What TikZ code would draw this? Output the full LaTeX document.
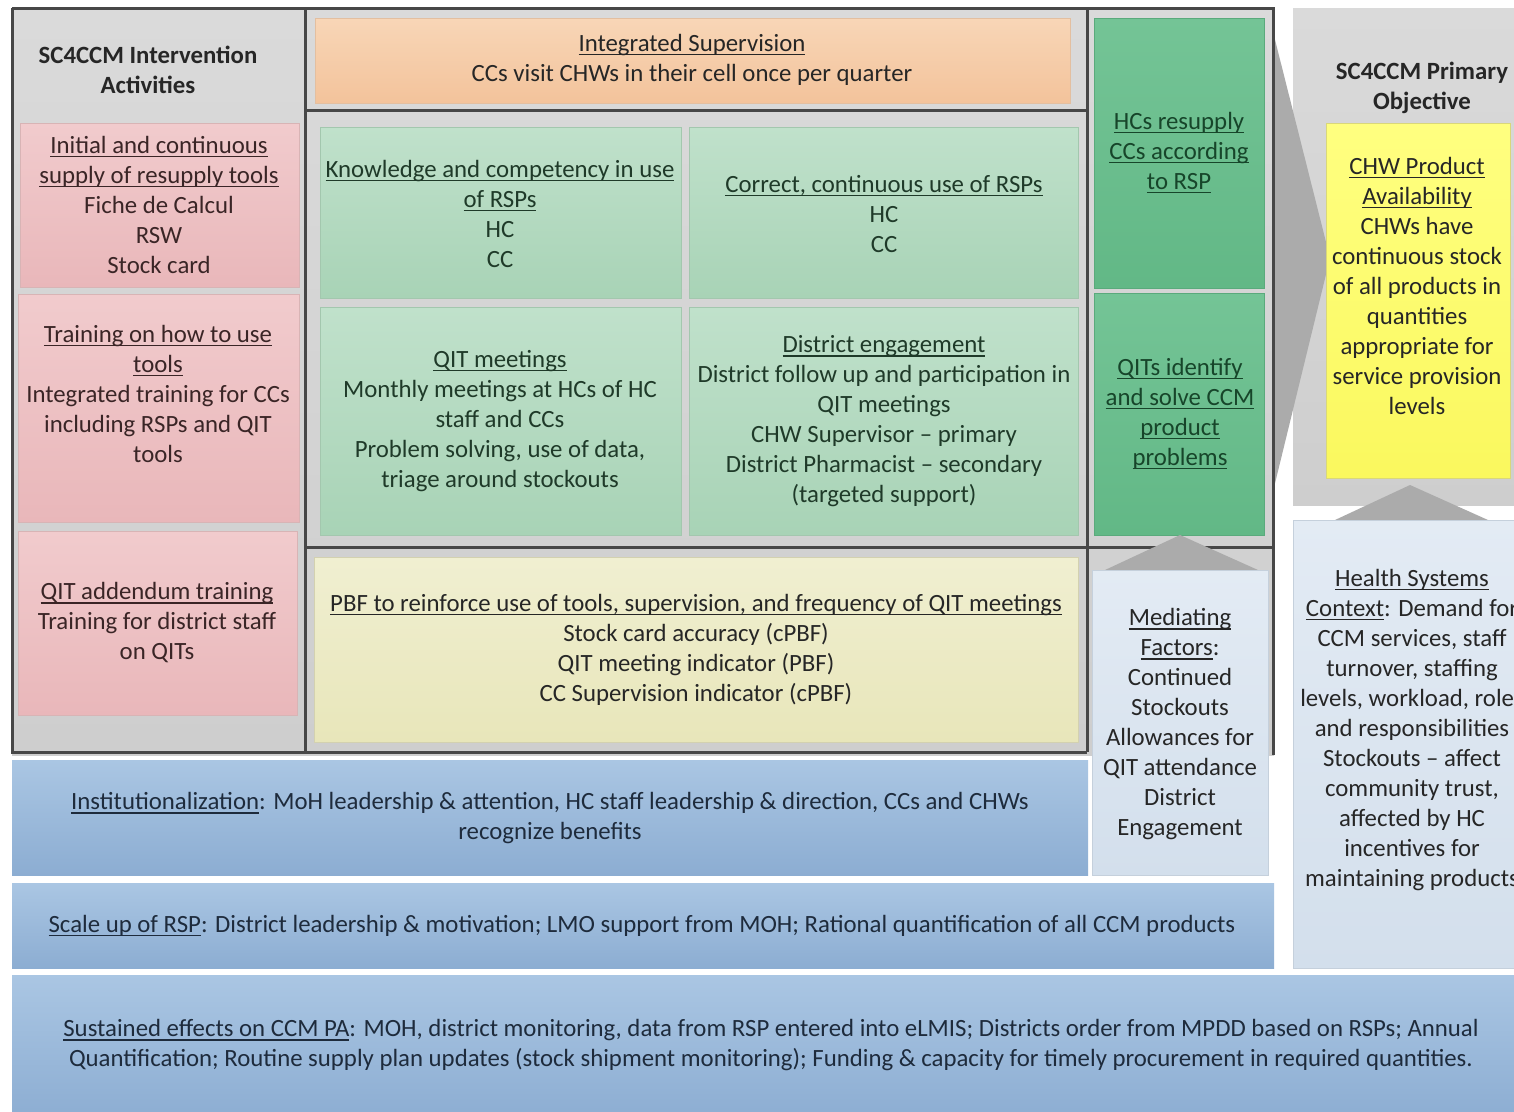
\documentclass[tikz,border=0pt]{standalone}
\usepackage{fontspec}
\setmainfont{Carlito}
\usetikzlibrary{fit}

\definecolor{framec}{HTML}{474747}
\definecolor{panelT}{HTML}{DADADA}
\definecolor{panelB}{HTML}{CECECE}
\definecolor{pinkT}{HTML}{F1CBCD}
\definecolor{pinkB}{HTML}{E9B7BA}
\definecolor{pinkD}{HTML}{D8B4B5}
\definecolor{pinkTx}{HTML}{3A2526}
\definecolor{greenT}{HTML}{C0E1CB}
\definecolor{greenB}{HTML}{A8D3B6}
\definecolor{greenD}{HTML}{A3C7AE}
\definecolor{greenTx}{HTML}{1F3A29}
\definecolor{dgreenT}{HTML}{74C496}
\definecolor{dgreenB}{HTML}{62B886}
\definecolor{dgreenD}{HTML}{5AAA7C}
\definecolor{dgreenTx}{HTML}{17452A}
\definecolor{orangeT}{HTML}{F8D6B7}
\definecolor{orangeB}{HTML}{F3C39B}
\definecolor{orangeD}{HTML}{E3BFA0}
\definecolor{paleT}{HTML}{F0EFD1}
\definecolor{paleB}{HTML}{E8E6BA}
\definecolor{paleD}{HTML}{D3D1B0}
\definecolor{yelT}{HTML}{FFFF80}
\definecolor{yelB}{HTML}{FAF85E}
\definecolor{yelD}{HTML}{D9D77A}
\definecolor{blueT}{HTML}{AAC6E3}
\definecolor{blueB}{HTML}{8CADD2}
\definecolor{blueTx}{HTML}{1E2B3C}
\definecolor{lblueT}{HTML}{E3EBF4}
\definecolor{lblueB}{HTML}{D3DFEC}
\definecolor{lblueD}{HTML}{C5D0DC}
\definecolor{triC}{HTML}{ABABAB}
\definecolor{darkTx}{HTML}{262626}

\newsavebox\ulbox
\newcommand\ulx[1]{\sbox\ulbox{#1}\rlap{\rule[-3.6pt]{\wd\ulbox}{1.3pt}}\usebox\ulbox}

\begin{document}
\begin{tikzpicture}[x=1pt,y=-1pt,
  cell/.style={rectangle, inner sep=0pt, line width=1pt},
  panel/.style={cell, top color=panelT, bottom color=panelB, draw=none},
  pinkcell/.style={cell, top color=pinkT, bottom color=pinkB, draw=pinkD},
  greencell/.style={cell, top color=greenT, bottom color=greenB, draw=greenD},
  dgreencell/.style={cell, top color=dgreenT, bottom color=dgreenB, draw=dgreenD},
  orangecell/.style={cell, top color=orangeT, bottom color=orangeB, draw=orangeD},
  palecell/.style={cell, top color=paleT, bottom color=paleB, draw=paleD},
  yelcell/.style={cell, top color=yelT, bottom color=yelB, draw=yelD},
  bluecell/.style={cell, top color=blueT, bottom color=blueB, draw=none},
  lbluecell/.style={cell, top color=lblueT, bottom color=lblueB, draw=lblueD},
  frame/.style={draw=framec, line width=3pt},
  txt/.style={align=center, inner sep=0pt, font=\fontsize{24.8}{30}\selectfont},
  head/.style={txt, font=\fontsize{24.8}{30}\selectfont\bfseries, text=darkTx},
]
\useasboundingbox (0,0) rectangle (1514,1111);
\fill[white] (0,0) rectangle (1514,1111);
\clip (0,0) rectangle (1514,1111);

% primary objective panel and the wedge pointing into it
\node[panel, fit={(1293,8) (1530,505)}] (objpanel) {};
\fill[triC] (1268,12) -- (1330,258) -- (1268,512) -- cycle;

% grey backing of the activity grid
\node[panel, fit={(12,8) (1274,755)}] (grid) {};

% intervention activities (left column)
\node[pinkcell, fit={(20,123) (299,287)}] (supply) {};
\node[pinkcell, fit={(18,294) (299,522)}] (train) {};
\node[pinkcell, fit={(18,531) (297,715)}] (addendum) {};

% supervision, outputs and incentives (centre)
\node[orangecell, fit={(315,18) (1070,103)}] (superv) {};
\node[greencell, fit={(320,127) (681,298)}] (know) {};
\node[greencell, fit={(689,127) (1078,298)}] (correct) {};
\node[greencell, fit={(320,307) (681,535)}] (qitm) {};
\node[greencell, fit={(689,307) (1078,535)}] (district) {};
\node[palecell, fit={(314,557) (1078,742)}] (pbf) {};

% outcomes (right column)
\node[dgreencell, fit={(1094,18) (1264,288)}] (hcs) {};
\node[dgreencell, fit={(1094,293) (1264,535)}] (qits) {};

% frame lines
\draw[frame] (12,8) -- (1273,8) -- (1273,755);
\draw[frame] (12,8) -- (12,752) -- (1087,752);
\draw[frame] (305,8) -- (305,752);
\draw[frame] (1087,8) -- (1087,752);
\draw[frame] (305,110) -- (1087,110);
\draw[frame] (305,547) -- (1273,547);

% upward pointers
\fill[triC] (1105,570) -- (1180,535) -- (1258,570) -- cycle;
\fill[triC] (1335,520) -- (1410,485) -- (1488,520) -- cycle;

% objective, mediating factors and context
\node[yelcell, fit={(1326,123) (1510,478)}] (objective) {};
\node[lbluecell, fit={(1092,570) (1268,875)}] (mediating) {};
\node[lbluecell, fit={(1293,520) (1530,968)}] (health) {};

% sustainability bands
\node[bluecell, fit={(12,760) (1088,875)}] (inst) {};
\node[bluecell, fit={(12,883) (1274,968)}] (scale) {};
\node[bluecell, fit={(12,975) (1530,1120)}] (sustain) {};

% texts
\node[head] (leftTitle) at (148,70) {SC4CCM Intervention\\Activities};
\node[head] (objTitle) at (1422,88) {SC4CCM Primary\\Objective};

\node[txt, text=pinkTx] (supplyT) at (159,205)
  {\ulx{Initial and continuous}\\\ulx{supply of resupply tools}\\Fiche de Calcul\\RSW\\Stock card};
\node[txt, text=pinkTx] (trainT) at (158,394)
  {\ulx{Training on how to use}\\\ulx{tools}\\Integrated training for CCs\\including RSPs and QIT\\tools};
\node[txt, text=pinkTx] (addendumT) at (157,623)
  {\ulx{QIT addendum training}\\Training for district staff\\on QITs};

\node[txt, text=darkTx] (supervT) at (692,60)
  {\ulx{Integrated Supervision}\\CCs visit CHWs in their cell once per quarter};
\node[txt, text=greenTx] (knowT) at (500,214)
  {\ulx{Knowledge and competency in use}\\\ulx{of RSPs}\\HC\\CC};
\node[txt, text=greenTx] (correctT) at (884,214)
  {\ulx{Correct, continuous use of RSPs}\\HC\\CC};
\node[txt, text=greenTx] (qitmT) at (500,421)
  {\ulx{QIT meetings}\\Monthly meetings at HCs of HC\\staff and CCs\\Problem solving, use of data,\\triage around stockouts};
\node[txt, text=greenTx] (districtT) at (884,421.5)
  {\ulx{District engagement}\\District follow up and participation in\\QIT meetings\\CHW Supervisor – primary\\District Pharmacist – secondary\\(targeted support)};
\node[txt, text=darkTx] (pbfT) at (696,650)
  {\ulx{PBF to reinforce use of tools, supervision, and frequency of QIT meetings}\\Stock card accuracy (cPBF)\\QIT meeting indicator (PBF)\\CC Supervision indicator (cPBF)};

\node[txt, text=dgreenTx] (hcsT) at (1179,153)
  {\ulx{HCs resupply}\\\ulx{CCs according}\\\ulx{to RSP}};
\node[txt, text=dgreenTx] (qitsT) at (1180,414)
  {\ulx{QITs identify}\\\ulx{and solve CCM}\\\ulx{product}\\\ulx{problems}};

\node[txt, text=darkTx] (objectiveT) at (1417,286)
  {\ulx{CHW Product}\\\ulx{Availability}\\CHWs have\\continuous stock\\of all products in\\quantities\\appropriate for\\service provision\\levels};
\node[txt, text=darkTx] (mediatingT) at (1180,724.5)
  {\ulx{Mediating}\\\ulx{Factors}:\\Continued\\Stockouts\\Allowances for\\QIT attendance\\District\\Engagement};
\node[txt, text=darkTx] (healthT) at (1412,730)
  {\ulx{Health Systems}\\\ulx{Context}: Demand for\\CCM services, staff\\turnover, staffing\\levels, workload, roles\\and responsibilities\\Stockouts – affect\\community trust,\\affected by HC\\incentives for\\maintaining products};

\node[txt, text=blueTx] (instT) at (550,818.5)
  {\ulx{Institutionalization}: MoH leadership \& attention, HC staff leadership \& direction, CCs and CHWs\\recognize benefits};
\node[txt, text=blueTx] (scaleT) at (642,926)
  {\ulx{Scale up of RSP}: District leadership \& motivation; LMO support from MOH; Rational quantification of all CCM products};
\node[txt, text=blueTx] (sustainT) at (771,1045.5)
  {\ulx{Sustained effects on CCM PA}: MOH, district monitoring, data from RSP entered into eLMIS; Districts order from MPDD based on RSPs; Annual\\Quantification; Routine supply plan updates (stock shipment monitoring); Funding \& capacity for timely procurement in required quantities.};
\end{tikzpicture}
\end{document}
